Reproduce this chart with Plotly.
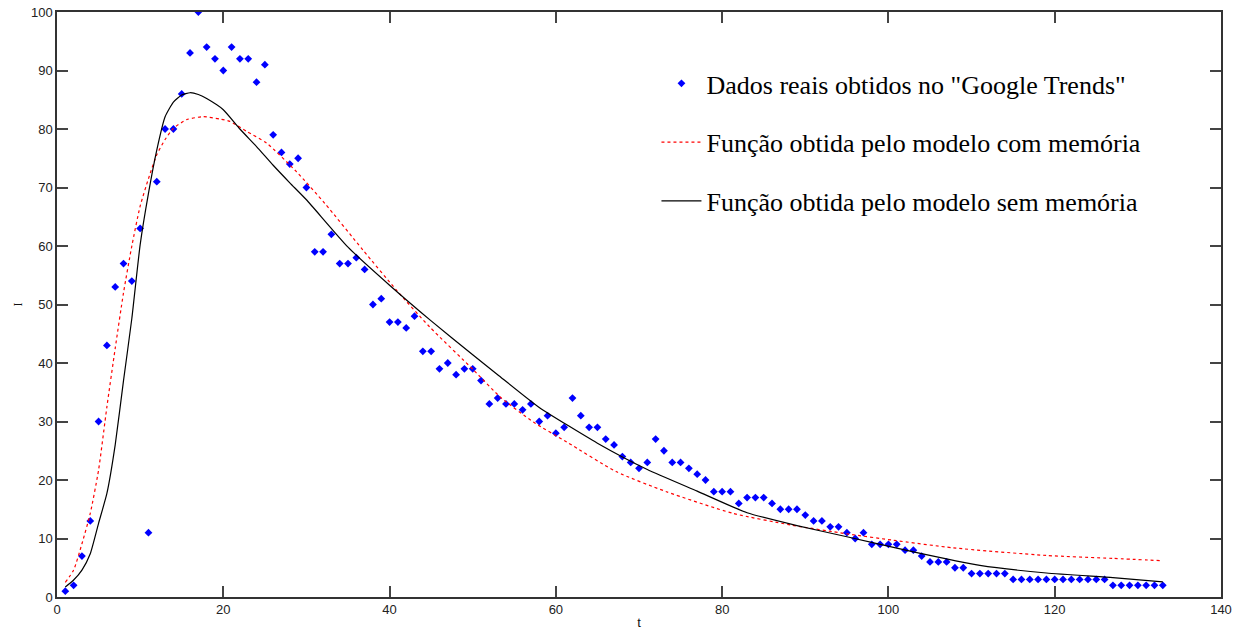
import plotly.graph_objects as go

# Google Trends observations, one per day
t_data = list(range(1, 134))
i_data = [
    1, 2, 7, 13, 30, 43, 53, 57, 54, 63,
    11, 71, 80, 80, 86, 93, 100, 94, 92, 90,
    94, 92, 92, 88, 91, 79, 76, 74, 75, 70,
    59, 59, 62, 57, 57, 58, 56, 50, 51, 47,
    47, 46, 48, 42, 42, 39, 40, 38, 39, 39,
    37, 33, 34, 33, 33, 32, 33, 30, 31, 28,
    29, 34, 31, 29, 29, 27, 26, 24, 23, 22,
    23, 27, 25, 23, 23, 22, 21, 20, 18, 18,
    18, 16, 17, 17, 17, 16, 15, 15, 15, 14,
    13, 13, 12, 12, 11, 10, 11, 9, 9, 9,
    9, 8, 8, 7, 6, 6, 6, 5, 5, 4,
    4, 4, 4, 4, 3, 3, 3, 3, 3, 3,
    3, 3, 3, 3, 3, 3, 2, 2, 2, 2,
    2, 2, 2,
]

# Model with memory (red dashed)
t_mem = [1, 2, 3, 4, 5, 6, 7, 8, 9, 10, 11, 12, 13, 14, 15.6, 17.6, 19.6,
         20.8, 22.8, 25.2, 28.8, 32.2, 36.8, 40.8, 44.8, 50.1, 53.3, 57.3,
         61.3, 67.3, 73.3, 81.3, 88.3, 95, 100.6, 107.8, 119, 127, 133]
i_mem = [2.5, 4.6, 9.1, 14.3, 21.7, 32.5, 42.5, 52.0, 60.0, 66.8, 71.5,
         75.6, 78.2, 80.1, 81.6, 82.1, 81.7, 81.3, 79.6, 77.6, 72.7, 67.3,
         59.3, 52.5, 46.2, 38.8, 34.2, 29.9, 26.5, 21.4, 18.0, 14.3, 12.3,
         10.8, 9.7, 8.4, 7.1, 6.6, 6.2]

# Model without memory (black solid)
t_nomem = [1, 2, 3, 4, 5, 6, 7, 8, 9, 10, 11, 12, 13, 14, 15, 16, 17, 18,
           20, 22, 24, 26, 28, 30, 35, 40, 45, 50, 53, 58, 65, 71, 77, 83,
           89, 95, 103, 111, 119, 127, 133]
i_nomem = [1.7, 2.9, 4.6, 7.4, 12.6, 17.7, 26.0, 37.0, 47.6, 60.2, 69.0,
           76.4, 82.1, 84.6, 85.8, 86.2, 85.9, 85.2, 83.3, 80.0, 77.0, 73.8,
           70.8, 67.9, 59.8, 53.3, 47.2, 41.4, 38.0, 32.4, 26.3, 21.8, 18.1,
           14.4, 12.2, 10.3, 7.7, 5.4, 4.1, 3.3, 2.6]

x_ticks = [0, 20, 40, 60, 80, 100, 120, 140]
y_ticks = [0, 10, 20, 30, 40, 50, 60, 70, 80, 90, 100]

fig = go.Figure()

fig.add_trace(go.Scatter(
    x=t_data, y=i_data, mode="markers",
    name='Dados reais obtidos no "Google Trends"',
    legendgroup="a",
    marker=dict(symbol="diamond", size=6, color="#0000ff",
                line=dict(width=0)),
))
fig.add_trace(go.Scatter(
    x=t_mem, y=i_mem, mode="lines",
    name="Função obtida pelo modelo com memória",
    legendgroup="b",
    line=dict(color="#ff0000", width=1.2, dash="3px,3px",
              shape="spline", smoothing=0.6),
))
fig.add_trace(go.Scatter(
    x=t_nomem, y=i_nomem, mode="lines",
    name="Função obtida pelo modelo sem memória",
    legendgroup="c",
    line=dict(color="#000000", width=1.2, shape="spline", smoothing=0.5),
))

axis_common = dict(
    showgrid=False, zeroline=False, showline=True, mirror="ticks",
    linecolor="#333333", linewidth=1.5, automargin=False,
    ticks="inside", ticklen=11, tickwidth=1.5, tickcolor="#444444",
    tickfont=dict(family="Liberation Sans, Arial", size=13, color="#222222"),
)

fig.update_xaxes(
    range=[0, 140], tickvals=x_ticks,
    title=dict(text="t", standoff=5,
               font=dict(family="Liberation Sans, Arial", size=13, color="#111")),
    **axis_common,
)
fig.update_yaxes(
    range=[0, 100], tickvals=y_ticks,
    title=dict(text="I", standoff=6,
               font=dict(family="Liberation Serif, Times New Roman", size=12,
                         color="#111")),
    **axis_common,
)

fig.update_layout(
    width=1248, height=630,
    margin=dict(l=57, r=27, t=12, b=33),
    paper_bgcolor="white", plot_bgcolor="white",
    showlegend=True,
    legend=dict(
        x=0.515, y=0.918, xanchor="left", yanchor="top",
        bgcolor="rgba(0,0,0,0)",
        font=dict(family="Liberation Serif, Times New Roman", size=26,
                  color="#000000"),
        tracegroupgap=22,
        itemwidth=40,
    ),
)

fig.write_html("out.html")
